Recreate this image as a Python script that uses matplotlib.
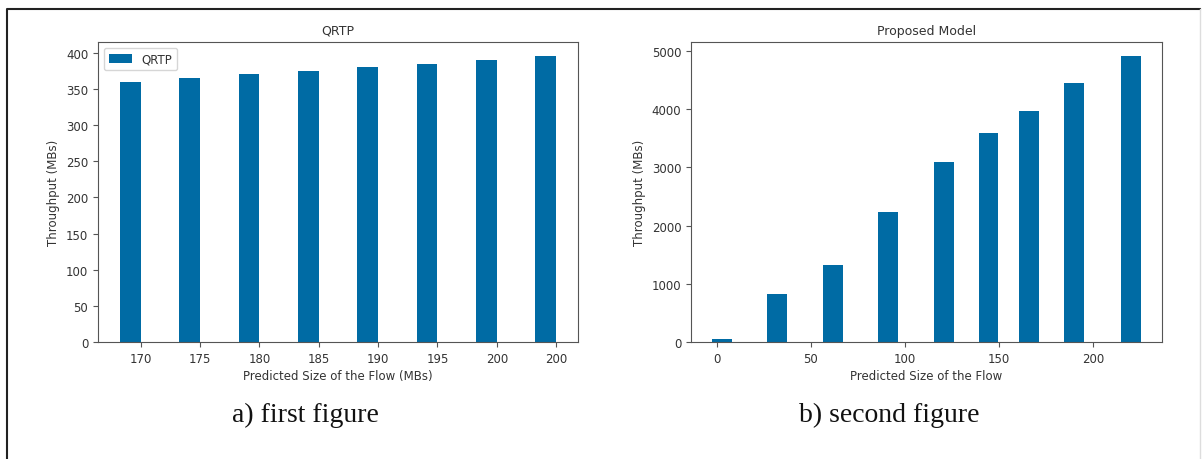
import matplotlib
matplotlib.use('Agg')
import matplotlib.pyplot as plt
from matplotlib.lines import Line2D

# dados do painel a) QRTP
qrtp_rotulos = ['170', '175', '180', '185', '190', '195', '200', '200']
qrtp_vazao = [360, 365, 370, 375, 380, 385, 390, 395]

# dados do painel b) modelo proposto
modelo_x = [3, 32, 62, 91, 121, 144.5, 166, 190, 220]
modelo_vazao = [50, 820, 1320, 2230, 3100, 3600, 3970, 4450, 4910]

COR = '#006BA4'
W, H = 1202, 460

plt.rcParams['font.family'] = 'DejaVu Sans'
plt.rcParams['font.size'] = 8.5
plt.rcParams['axes.edgecolor'] = '#555555'
plt.rcParams['xtick.color'] = '#555555'
plt.rcParams['ytick.color'] = '#555555'
plt.rcParams['xtick.labelcolor'] = '#333333'
plt.rcParams['ytick.labelcolor'] = '#333333'
plt.rcParams['text.color'] = '#333333'
plt.rcParams['axes.labelcolor'] = '#333333'

fig = plt.figure(figsize=(W / 100, H / 100), dpi=100)


def eixo(x0, x1, y0, y1):
    # converte pixels da imagem em fração da figura
    return fig.add_axes([x0 / W, 1 - y1 / H, (x1 - x0) / W, (y1 - y0) / H])


# painel a)
ax1 = eixo(98, 578, 43, 343)
largura = 0.35
pos = list(range(len(qrtp_rotulos)))
ax1.bar([p - largura / 2 for p in pos], qrtp_vazao, largura, color=COR, label='QRTP')
ax1.set_xticks(pos)
ax1.set_xticklabels(qrtp_rotulos)
ax1.set_title('QRTP', fontsize=9)
ax1.set_xlabel('Predicted Size of the Flow (MBs)', labelpad=3)
ax1.set_ylabel('Throughput (MBs)')
ax1.legend(loc='upper left')

# painel b)
ax2 = eixo(691, 1162, 43, 343)
ax2.bar(modelo_x, modelo_vazao, 10.5, color=COR)
ax2.set_title('Proposed Model', fontsize=9)
ax2.set_xlabel('Predicted Size of the Flow', labelpad=3)
ax2.set_ylabel('Throughput (MBs)')

# legendas das figuras
fig.text(305 / W, 1 - 415 / H, 'a) first figure', ha='center', va='center',
         family='Liberation Serif', fontsize=20, color='#111111')
fig.text(889 / W, 1 - 415 / H, 'b) second figure', ha='center', va='center',
         family='Liberation Serif', fontsize=20, color='#111111')

# moldura externa
fig.add_artist(Line2D([7 / W, 7 / W, 1200 / W], [0, 1 - 10 / H, 1 - 10 / H],
                      transform=fig.transFigure, color='#222222', lw=1.5))
fig.add_artist(Line2D([1200 / W, 1200 / W], [0, 1 - 10 / H],
                      transform=fig.transFigure, color='#dddddd', lw=1))

fig.savefig('out.png', dpi=100)
